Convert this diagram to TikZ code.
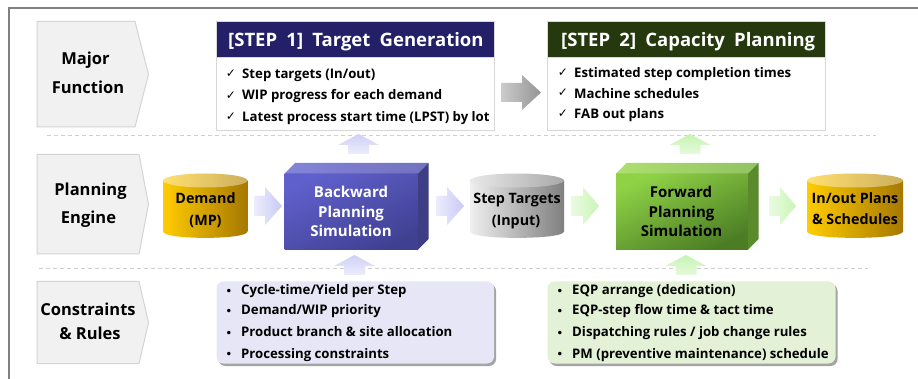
\documentclass[tikz,border=0pt]{standalone}
\usepackage{fontspec}
\setmainfont{Open Sans}
\newfontfamily\symfont{DejaVu Sans}
\newcommand{\widewords}{\spaceskip 0.5em\relax}
\definecolor{framegray}{HTML}{808080}
\definecolor{tagfill}{HTML}{F1F1F1}
\definecolor{tagline}{HTML}{D4D4D4}
\definecolor{boxline}{HTML}{D8D8D8}
\definecolor{stepblue}{HTML}{232068}
\definecolor{stepgreen}{HTML}{26390E}
\definecolor{lavender}{HTML}{E7E6F6}
\definecolor{palegreen}{HTML}{E3F2D6}
\definecolor{dashgray}{HTML}{CFCFCF}
\definecolor{shadowgray}{HTML}{A4A4A4}
\definecolor{lavA}{HTML}{CFCFF6}
\definecolor{lavB}{HTML}{EDEDFC}
\definecolor{grA}{HTML}{C6F4B2}
\definecolor{grB}{HTML}{E6FADC}
\definecolor{lavL}{HTML}{EDEDFC}
\definecolor{lavR}{HTML}{C9C9F6}
\definecolor{grL}{HTML}{EAFBE2}
\definecolor{grR}{HTML}{C9F5B6}
\definecolor{goldL}{HTML}{FFCC00}
\definecolor{goldR}{HTML}{A67800}
\definecolor{goldTL}{HTML}{FFE070}
\definecolor{goldTR}{HTML}{CDAE5E}
\definecolor{grayL}{HTML}{EFEFEF}
\definecolor{grayR}{HTML}{7F7F7F}
\definecolor{grayTL}{HTML}{E9E9E9}
\definecolor{grayTR}{HTML}{A9A9A9}
\definecolor{bluF}{HTML}{6060CC}
\definecolor{bluG}{HTML}{404092}
\definecolor{bluTL}{HTML}{8484DA}
\definecolor{bluTR}{HTML}{7272BE}
\definecolor{bluS}{HTML}{3E3E84}
\definecolor{greF}{HTML}{8FD246}
\definecolor{greG}{HTML}{4C7D25}
\definecolor{greTL}{HTML}{AEDF70}
\definecolor{greTR}{HTML}{92C262}
\definecolor{greS}{HTML}{598A2C}
\tikzset{
  x=1pt,y=-1pt,
  tagshape/.style={draw=tagline,line width=1pt,fill=tagfill},
  taglabel/.style={font=\fontsize{16.5}{18}\selectfont\bfseries,text=black,inner sep=0pt,anchor=base},
  steplabel/.style={font=\fontsize{18.5}{20}\selectfont\bfseries\widewords,text=white,inner sep=0pt,anchor=base west},
  itemlabel/.style={font=\fontsize{13.2}{14}\selectfont\bfseries,text=black,inner sep=0pt,anchor=base west},
  marklabel/.style={font=\fontsize{12}{12}\selectfont\symfont,text=black,inner sep=0pt},
  bulletlabel/.style={font=\fontsize{12}{12}\selectfont\symfont,text=black,inner sep=0pt},
  enginelabel/.style={font=\fontsize{14.3}{16}\selectfont\bfseries,text=black,inner sep=0pt,anchor=base},
  simlabel/.style={font=\fontsize{15}{16}\selectfont\bfseries,text=black,inner sep=0pt,anchor=base},
  whitelabel/.style={simlabel,text=white},
  ruleshadow/.style={fill=shadowgray,rounded corners=7pt},
  rulebox/.style={rounded corners=7pt},
  sepline/.style={draw=dashgray,line width=1pt,dash pattern=on 4pt off 3pt},
}
% tag(x0,ytop,xbody,xtip,ybot)
\newcommand{\tagshape}[5]{\draw[tagshape] (#1,#2) -- (#3,#2) -- (#4,{(#2+#5)/2}) -- (#3,#5) -- (#1,#5) -- cycle;}
% right block arrow: x0, xhead, xtip, ymid, c1, c2
\newcommand{\rarrow}[6]{\shade[left color=#5,right color=#6] (#1,#4-10) -- (#2,#4-10) -- (#2,#4-19) -- (#3,#4) -- (#2,#4+19) -- (#2,#4+10) -- (#1,#4+10) -- cycle;}
% up block arrow: xmid, ytip, yhead, ybase, c1 (top), c2 (bottom)
\newcommand{\uarrow}[6]{\shade[top color=#5,bottom color=#6] (#1-10.5,#4) -- (#1-10.5,#3) -- (#1-20.5,#3) -- (#1,#2) -- (#1+20.5,#3) -- (#1+10.5,#3) -- (#1+10.5,#4) -- cycle;}
% cylinder: x0,x1,ytop,ybot, bodyL,bodyR,topL,topR
\newcommand{\cyl}[8]{%
  \shade[left color=#5,right color=#6] (#1,#3+7) -- (#1,#4-6.5) .. controls (#1,#4+2) and (#2,#4+2) .. (#2,#4-6.5) -- (#2,#3+7) -- cycle;
  \shade[left color=#7,right color=#8] ({(#1+#2)/2},#3+7) ellipse[x radius={(#2-#1)/2},y radius=7];}
% box: x0,x1,ytop,ybot, front1,front2, top1,top2, side
\newcommand{\simbox}[9]{%
  \shade[top color=#5,bottom color=#6,shading angle=25] (#1,#3) rectangle (#2,#4);
  \shade[left color=#7,right color=#8] (#1,#3) -- (#1+10.5,#3-10.5) -- (#2+10.5,#3-10.5) -- (#2,#3) -- cycle;
  \fill[#9] (#2,#3) -- (#2+10.5,#3-10.5) -- (#2+10.5,#4-10.5) -- (#2,#4) -- cycle;}
\begin{document}
\begin{tikzpicture}
\useasboundingbox (0,0) rectangle (918,379);
\fill[white] (0,0) rectangle (918,379);
% frame
\draw[framegray,line width=1.4pt] (9,379) -- (9,8) -- (918,8);
% separators
\draw[sepline] (47,136) -- (876,136);
\draw[sepline] (39,269) -- (868,269);
% left tags
\tagshape{37}{21.5}{135}{148.5}{127}
\tagshape{37}{154.5}{139}{148.5}{254}
\tagshape{37}{281.5}{139}{148.5}{363.5}
\node[taglabel] (major) at (85.5,65) {Major};
\node[taglabel] (function) at (88,94) {Function};
\node[taglabel] (planning) at (90.5,196) {Planning};
\node[taglabel] (engine) at (88.5,223.5) {Engine};
\node[taglabel] (constraints) at (88,315.5) {Constraints};
\node[taglabel] (rules) at (90,339) {\&\ Rules};
% step 1
\draw[boxline,fill=white,line width=.8pt] (216.5,21.5) rectangle (494.5,130);
\draw[boxline,fill=stepblue,line width=.8pt] (216.5,21.5) rectangle (494.5,57.5);
\node[steplabel] (s1title) at (228,46.5) {[STEP 1] Target Generation};
\node[marklabel] (s1m1) at (231,74) {✓};
\node[marklabel] (s1m2) at (231,95.5) {✓};
\node[marklabel] (s1m3) at (231,117) {✓};
\node[itemlabel] (s1a) at (242,78.7) {Step targets (In/out)};
\node[itemlabel] (s1b) at (242,100) {WIP progress for each demand};
\node[itemlabel] (s1c) at (242,121.5) {Latest process start time (LPST) by lot};
% step 2
\draw[boxline,fill=white,line width=.8pt] (547.5,21.5) rectangle (825,130);
\draw[boxline,fill=stepgreen,line width=.8pt] (547.5,21.5) rectangle (825,57.5);
\node[steplabel] (s2title) at (561,46.5) {[STEP 2] Capacity Planning};
\node[marklabel] (s2m1) at (563,72.5) {✓};
\node[marklabel] (s2m2) at (563,93) {✓};
\node[marklabel] (s2m3) at (563,113.5) {✓};
\node[itemlabel] (s2a) at (574,77.7) {Estimated step completion times};
\node[itemlabel] (s2b) at (574,98.3) {Machine schedules};
\node[itemlabel] (s2c) at (574,119) {FAB out plans};
% big arrow between steps
\shade[left color=black!20,right color=black!42] (501,83) -- (522,83) -- (522,75) -- (541,92.5) -- (522,110) -- (522,102) -- (501,102) -- cycle;
% up arrows
\uarrow{358.5}{134}{145}{154}{lavA}{lavB}
\uarrow{690}{134}{145}{154}{grA}{grB}
\uarrow{354.5}{255}{266}{275}{lavA}{lavB}
\uarrow{686}{255}{266}{275}{grA}{grB}
% right arrows
\rarrow{254}{265}{282}{206}{lavL}{lavR}
\rarrow{436}{447}{464}{206}{lavL}{lavR}
\rarrow{571}{583}{599}{206}{grL}{grR}
\rarrow{769}{780}{796}{206}{grL}{grR}
% cylinders
\cyl{163}{247.5}{173.5}{238}{goldL}{goldR}{goldTL}{goldTR}
\cyl{470}{564}{173.5}{238}{grayL}{grayR}{grayTL}{grayTR}
\cyl{807}{903}{173.5}{238}{goldL}{goldR}{goldTL}{goldTR}
\node[enginelabel] (demand) at (205.5,204) {Demand};
\node[enginelabel] (mp) at (205.5,226) {(MP)};
\node[enginelabel] (targets) at (517,204) {Step Targets};
\node[enginelabel] (input) at (516,226) {(Input)};
\node[enginelabel] (inout) at (855,203.5) {In/out Plans};
\node[enginelabel] (schedules) at (855,225) {\&\ Schedules};
% sim boxes
\simbox{284.5}{418}{173.5}{249.5}{bluF}{bluG}{bluTL}{bluTR}{bluS}
\simbox{616}{748}{173.5}{249.5}{greF}{greG}{greTL}{greTR}{greS}
\node[whitelabel] (back1) at (351,197.7) {Backward};
\node[whitelabel] (back2) at (351,217.7) {Planning};
\node[whitelabel] (back3) at (351,236.7) {Simulation};
\node[simlabel] (fwd1) at (681,197.7) {Forward};
\node[simlabel] (fwd2) at (681.5,217.7) {Planning};
\node[simlabel] (fwd3) at (681.5,236.7) {Simulation};
% rule boxes
\path[ruleshadow] (218.5,284) rectangle (496,366);
\path[ruleshadow] (549.5,284) rectangle (837.5,366);
\path[fill=lavender,rulebox] (216.5,281.5) rectangle (494,363.5);
\path[fill=palegreen,rulebox] (547.5,281.5) rectangle (835.5,363.5);
\foreach \n/\y in {a/292,b/312.5,c/334,d/355.5}{
  \node[bulletlabel] (lb\n) at (229,\y) {•};
  \node[bulletlabel] (gb\n) at (560,\y) {•};
}
\node[itemlabel] (l1) at (241,294.7) {Cycle-time/Yield per Step};
\node[itemlabel] (l2) at (241,315) {Demand/WIP priority};
\node[itemlabel] (l3) at (241,336.3) {Product branch \&\ site allocation};
\node[itemlabel] (l4) at (241,358) {Processing constraints};
\node[itemlabel] (g1) at (572,294.7) {EQP arrange (dedication)};
\node[itemlabel] (g2) at (572,315) {EQP-step flow time \&\ tact time};
\node[itemlabel] (g3) at (572,336.3) {Dispatching rules / job change rules};
\node[itemlabel] (g4) at (572,358) {PM (preventive maintenance) schedule};
\end{tikzpicture}
\end{document}
